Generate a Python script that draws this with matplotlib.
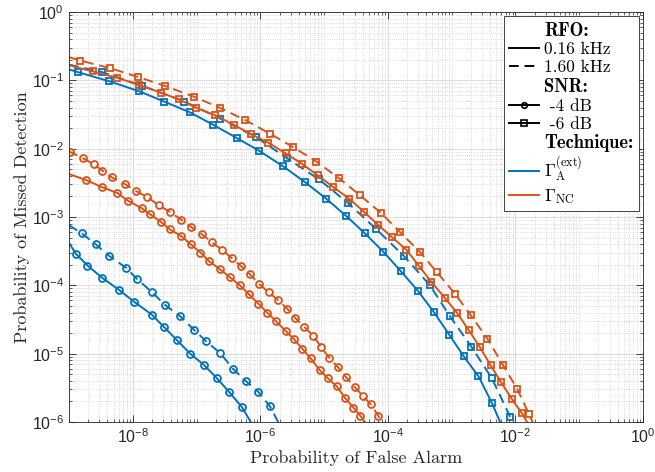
import numpy as np
import matplotlib
matplotlib.use('Agg')
import matplotlib.pyplot as plt
from matplotlib.lines import Line2D
from matplotlib.ticker import FixedLocator, NullFormatter

plt.rcParams['font.family'] = ['Liberation Sans', 'DejaVu Sans']
plt.rcParams['mathtext.fontset'] = 'cm'

# curve values, stored as log10(Pfa) and log10(Pmd)
# Gamma_A^(ext), 0.16 kHz, -4 dB
pfa_a_016_m4 = [-9.0, -8.89, -8.71, -8.48, -8.21, -7.98, -7.70, -7.51, -7.31, -7.10, -6.89, -6.68, -6.49, -6.29, -6.15]
pmd_a_016_m4 = [-3.38, -3.54, -3.71, -3.89, -4.07, -4.24, -4.43, -4.61, -4.80, -5.00, -5.16, -5.36, -5.56, -5.78, -6.0]
# Gamma_A^(ext), 1.60 kHz, -4 dB
pfa_a_160_m4 = [-9.0, -8.80, -8.58, -8.37, -8.11, -7.93, -7.70, -7.49, -7.26, -7.04, -6.85, -6.63, -6.43, -6.23, -6.03, -5.85, -5.72]
pmd_a_160_m4 = [-3.12, -3.24, -3.40, -3.57, -3.74, -3.91, -4.10, -4.29, -4.45, -4.65, -4.82, -4.99, -5.22, -5.40, -5.56, -5.77, -6.0]
# Gamma_NC, 0.16 kHz, -4 dB
pfa_nc_016_m4 = [-9.0, -8.73, -8.49, -8.24, -8.08, -7.86, -7.73, -7.56, -7.42, -7.24, -7.09, -6.94, -6.80, -6.64, -6.48, -6.32,
                 -6.18, -6.03, -5.89, -5.76, -5.60, -5.47, -5.34, -5.21, -5.07, -4.94, -4.80, -4.67, -4.54, -4.43, -4.36]
pmd_nc_016_m4 = [-2.37, -2.46, -2.56, -2.65, -2.76, -2.87, -2.96, -3.07, -3.18, -3.28, -3.40, -3.52, -3.65, -3.76, -3.88, -4.00,
                 -4.13, -4.27, -4.40, -4.52, -4.67, -4.79, -4.93, -5.07, -5.24, -5.36, -5.48, -5.65, -5.79, -5.91, -6.0]
# Gamma_NC, 1.60 kHz, -4 dB
pfa_nc_160_m4 = [-9.0, -8.98, -8.78, -8.61, -8.48, -8.33, -8.12, -7.95, -7.77, -7.59, -7.41, -7.24, -7.08, -6.92, -6.76, -6.60, -6.45,
                 -6.30, -6.16, -6.02, -5.87, -5.72, -5.58, -5.45, -5.31, -5.17, -5.05, -4.92, -4.78, -4.66, -4.52, -4.39, -4.27, -4.15, -4.10]
pmd_nc_160_m4 = [-2.03, -2.05, -2.14, -2.23, -2.32, -2.42, -2.52, -2.62, -2.71, -2.83, -2.93, -3.04, -3.15, -3.25, -3.37, -3.48, -3.60,
                 -3.72, -3.84, -3.98, -4.10, -4.22, -4.34, -4.48, -4.61, -4.74, -4.90, -5.06, -5.20, -5.34, -5.49, -5.62, -5.74, -5.91, -6.0]
# Gamma_A^(ext), 0.16 kHz, -6 dB
pfa_a_016_m6 = [-9.0, -8.86, -8.38, -7.90, -7.51, -7.10, -6.74, -6.36, -6.02, -5.64, -5.30, -4.97, -4.66, -4.36, -4.07, -3.80,
                -3.53, -3.28, -3.04, -2.81, -2.58, -2.37, -2.24]
pmd_a_016_m6 = [-0.84, -0.88, -1.01, -1.16, -1.31, -1.47, -1.65, -1.85, -2.03, -2.26, -2.49, -2.73, -2.98, -3.24, -3.51, -3.79,
                -4.08, -4.39, -4.72, -5.04, -5.33, -5.72, -6.0]
# Gamma_A^(ext), 1.60 kHz, -6 dB
pfa_a_160_m6 = [-9.0, -8.48, -7.85, -7.19, -6.63, -6.07, -5.58, -5.08, -4.62, -4.18, -3.75, -3.34, -3.03, -2.69, -2.37, -2.08, -2.04]
pmd_a_160_m6 = [-0.77, -0.88, -1.08, -1.31, -1.56, -1.83, -2.14, -2.45, -2.80, -3.18, -3.57, -4.00, -4.45, -4.90, -5.36, -5.93, -6.0]
# Gamma_NC, 0.16 kHz, -6 dB
pfa_nc_016_m6 = [-9.0, -8.63, -8.25, -7.90, -7.56, -7.27, -7.01, -6.71, -6.42, -6.14, -5.88, -5.60, -5.35, -5.10, -4.86, -4.61,
                 -4.38, -4.16, -3.93, -3.71, -3.51, -3.32, -3.11, -2.91, -2.73, -2.56, -2.39, -2.23, -2.06, -1.90, -1.82]
pmd_nc_016_m6 = [-0.78, -0.87, -0.96, -1.07, -1.18, -1.28, -1.40, -1.51, -1.65, -1.79, -1.91, -2.07, -2.22, -2.39, -2.56, -2.73,
                 -2.92, -3.11, -3.30, -3.48, -3.72, -3.95, -4.18, -4.41, -4.66, -4.90, -5.17, -5.41, -5.66, -5.87, -6.0]
# Gamma_NC, 1.60 kHz, -6 dB
pfa_nc_160_m6 = [-9.0, -8.83, -8.36, -7.92, -7.50, -7.04, -6.64, -6.24, -5.85, -5.48, -5.12, -4.77, -4.44, -4.11, -3.81, -3.50,
                 -3.23, -2.95, -2.70, -2.44, -2.20, -1.97, -1.79, -1.73]
pmd_nc_160_m6 = [-0.66, -0.71, -0.82, -0.95, -1.08, -1.24, -1.40, -1.58, -1.78, -1.98, -2.19, -2.43, -2.68, -2.94, -3.22, -3.51,
                 -3.81, -4.12, -4.44, -4.78, -5.16, -5.52, -5.88, -6.0]

blue = '#0072BD'
orange = '#D95319'

curves = [
    (pfa_a_016_m4, pmd_a_016_m4, blue, '-', 'o'),
    (pfa_a_160_m4, pmd_a_160_m4, blue, '--', 'o'),
    (pfa_nc_016_m4, pmd_nc_016_m4, orange, '-', 'o'),
    (pfa_nc_160_m4, pmd_nc_160_m4, orange, '--', 'o'),
    (pfa_a_016_m6, pmd_a_016_m6, blue, '-', 's'),
    (pfa_a_160_m6, pmd_a_160_m6, blue, '--', 's'),
    (pfa_nc_016_m6, pmd_nc_016_m6, orange, '-', 's'),
    (pfa_nc_160_m6, pmd_nc_160_m6, orange, '--', 's'),
]

fig = plt.figure(figsize=(6.55, 4.72), dpi=100)
ax = fig.add_axes([69/655, 1-422/472, 574/655, 410/472])

for px, py, c, ls, mk in curves:
    ln, = ax.plot(10**np.array(px), 10**np.array(py), color=c, linestyle=ls, lw=1.4,
                  marker=mk, ms=5, mfc='none', mew=1.3, markevery=slice(1, -1))
    if ls == '--':
        ln.set_dashes((5, 3))

ax.set_xscale('log')
ax.set_yscale('log')
ax.set_xlim(1e-9, 1)
ax.set_ylim(1e-6, 1)

ax.xaxis.set_major_locator(FixedLocator([1e-8, 1e-6, 1e-4, 1e-2, 1]))
xminor = [k * 10.0**n for n in range(-9, 0) for k in range(1, 10)
          if not (k == 1 and n in (-8, -6, -4, -2))]
ax.xaxis.set_minor_locator(FixedLocator(xminor))
ax.xaxis.set_minor_formatter(NullFormatter())
ax.yaxis.set_minor_formatter(NullFormatter())

ax.grid(True, which='major', color='#dcdcdc', lw=0.7, ls='-')
ax.grid(True, which='minor', color='#d0d0d0', lw=0.6, ls=':')
ax.set_axisbelow(True)
ax.tick_params(which='both', direction='in', top=True, right=True, colors='#262626', labelsize=11.5)
ax.tick_params(which='major', length=5, width=0.6)
ax.tick_params(which='minor', length=2.5, width=0.5)
for s in ax.spines.values():
    s.set_color('#262626')
    s.set_linewidth(0.6)

ax.set_xlabel('Probability of False Alarm', fontfamily='cmr10', fontsize=13, color='#262626', labelpad=3)
ax.set_ylabel('Probability of Missed Detection', fontfamily='cmr10', fontsize=13, color='#262626', labelpad=1)

blank = Line2D([], [], color='none')
handles = [
    blank,
    Line2D([], [], color='k', ls='-', lw=1.4),
    Line2D([], [], color='k', ls='--', lw=1.4, dashes=(5, 3)),
    blank,
    Line2D([], [], color='k', ls='-', lw=1.4, marker='o', ms=4, mfc='none', mew=1.2),
    Line2D([], [], color='k', ls='-', lw=1.4, marker='s', ms=4, mfc='none', mew=1.2),
    blank,
    Line2D([], [], color=blue, lw=1.4),
    Line2D([], [], color=orange, lw=1.4),
]
labels = ['RFO:', '0.16 kHz', '1.60 kHz', 'SNR:', ' -4 dB', ' -6 dB', 'Technique:',
          r'$\Gamma_{\mathrm{A}}^{(\mathrm{ext})}$', r'$\Gamma_{\mathrm{NC}}$']
leg = ax.legend(handles, labels, loc='upper right', prop={'family': 'cmr10', 'size': 12.5},
                handlelength=1.7, handletextpad=0.3, labelspacing=0.15, borderpad=0.3,
                borderaxespad=0.25, fancybox=False, framealpha=1, edgecolor='#262626')
leg.get_frame().set_linewidth(0.6)
for t in leg.get_texts():
    if t.get_text().endswith(':'):
        t.set_fontfamily('cmb10')
        t.set_fontsize(13.3)

fig.savefig('out.png', dpi=100)
